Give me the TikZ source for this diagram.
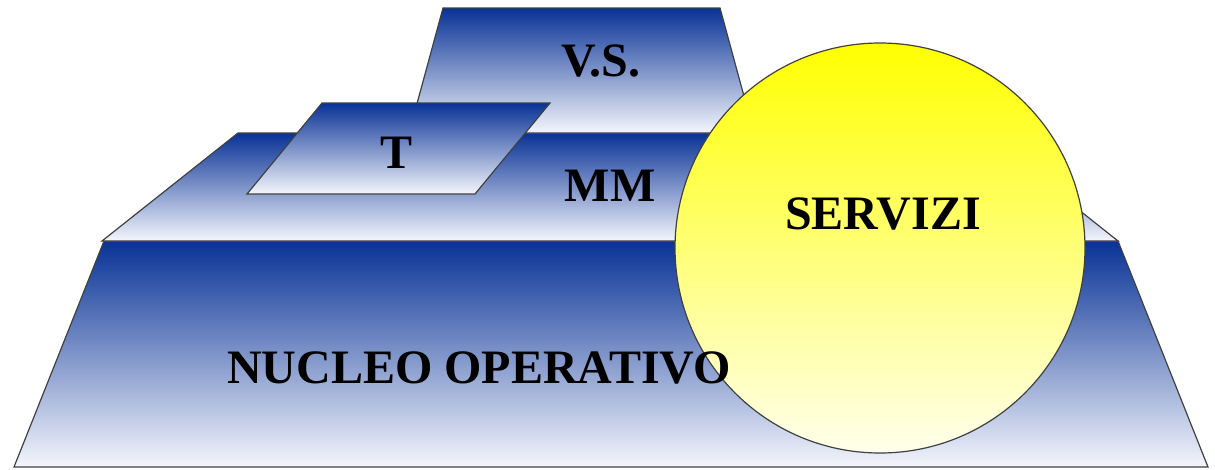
\documentclass[tikz,border=0pt]{standalone}
\usepackage{fontspec}
\setmainfont{Liberation Serif}
\begin{document}
\begin{tikzpicture}[x=1pt,y=-1pt,
  tier/.style={draw=black!75,line width=1.2pt,line join=miter,
    top color=blueTop,bottom color=blueBot},
  label/.style={font=\bfseries\fontsize{48}{48}\selectfont,text=black,inner sep=0pt},
]
\definecolor{blueTop}{RGB}{8,50,150}
\definecolor{blueBot}{RGB}{244,246,252}
\definecolor{sunTop}{RGB}{255,255,0}
\definecolor{sunBot}{RGB}{255,255,236}
\useasboundingbox (0,0) rectangle (1215,469);
% base tier
\path[tier] (104,241) -- (1118,241) -- (1208,467) -- (14,467) -- cycle;
% middle tier
\path[tier] (238,133) -- (982,133) -- (1118,241) -- (102,241) -- cycle;
% top tier
\path[tier] (443,8) -- (720,8) -- (754,133) -- (409,133) -- cycle;
% small slanted plate
\path[tier] (322,103) -- (550,103) -- (475,194) -- (247,194) -- cycle;
% services disc
\path[draw=black!75,line width=1.2pt,top color=sunTop,bottom color=sunBot]
  (880,248) circle[radius=205];
% labels
\node[label] (vs) at (601,61) {V.S.};
\node[label] (t) at (397,153) {T};
\node[label] (mm) at (610,186) {MM};
\node[label] (serv) at (883,214) {SERVIZI};
\node[label] (nucleo) at (479,368) {NUCLEO OPERATIVO};
\end{tikzpicture}
\end{document}
